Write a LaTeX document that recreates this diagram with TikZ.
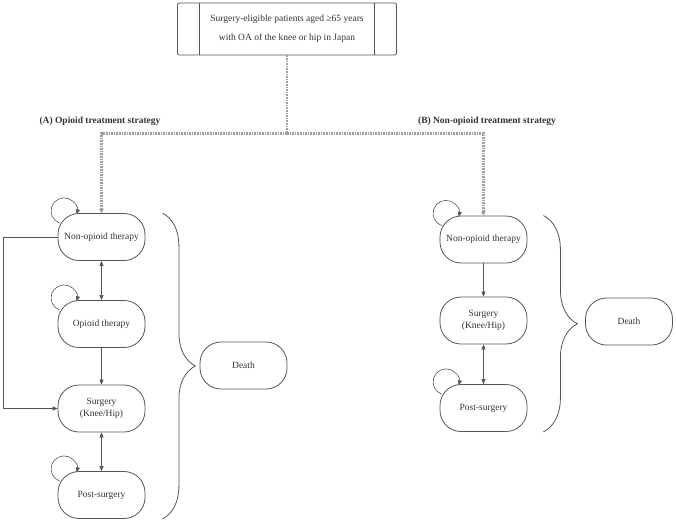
\documentclass[tikz,border=0pt]{standalone}
\usepackage{fontspec}
\setmainfont{Liberation Serif}
\usetikzlibrary{arrows.meta,decorations.pathreplacing}

\definecolor{linegray}{HTML}{555555}
\definecolor{textgray}{HTML}{333333}

\tikzset{
  state/.style={draw=linegray,thick,rounded corners=21pt,minimum width=87pt,
    minimum height=47pt,align=center,text=textgray,font=\fontsize{9.5}{12}\selectfont},
  link/.style={draw=linegray,semithick,-{Triangle[length=5pt,width=4pt]}},
  biglink/.style={draw=linegray,semithick,{Triangle[length=5pt,width=4pt]}-{Triangle[length=5pt,width=4pt]}},
  dashlink/.style={draw=gray!75,line width=2.6pt,dash pattern=on 1.6pt off 1pt,
    -{Triangle[length=4pt,width=4.5pt]}},
  bracket/.style={draw=linegray,thick,decorate},
  strategy/.style={text=textgray,font=\fontsize{9.5}{12}\selectfont\bfseries}
}

% self-loop at the upper left corner of a state
\newcommand\selfloop[1]{%
  \draw[link] ([shift={(2,10)}]#1.north west) arc[start angle=250,end angle=-15,radius=13pt];}

\begin{document}
\begin{tikzpicture}[x=1pt,y=-1pt]
  \useasboundingbox (0,0) rectangle (676,523);

  % ================= population =================
  \node[draw=linegray,thick,rounded corners=2pt,minimum width=219pt,minimum height=52pt,
    align=center,text=textgray,font=\fontsize{9.5}{19}\selectfont] (pop) at (287,29)
    {Surgery-eligible patients aged ≥65 years\\with OA of the knee or hip in Japan};
  \draw[linegray,thick] ([xshift=22pt]pop.north west) -- ([xshift=22pt]pop.south west);
  \draw[linegray,thick] ([xshift=-23pt]pop.north east) -- ([xshift=-23pt]pop.south east);

  \node[strategy] (labA) at (100,121) {(A) Opioid treatment strategy};
  \node[strategy] (labB) at (487,121) {(B) Non-opioid treatment strategy};

  % ================= (A) opioid strategy =================
  \node[state] (A1) at (101.5,237) {Non-opioid therapy};
  \node[state] (A2) at (101.5,324) {Opioid therapy};
  \node[state] (A3) at (101.5,408.5) {Surgery\\(Knee/Hip)};
  \node[state] (A4) at (101.5,495) {Post-surgery};
  \node[state] (A5) at (243.5,365.5) {Death};

  \selfloop{A1}
  \selfloop{A2}
  \selfloop{A4}

  \draw[biglink] (A1) -- (A2);
  \draw[link] (A2) -- (A3);
  \draw[biglink] (A3) -- (A4);
  \draw[link] (A1.west) -- ++(-54,0) |- (A3.west);

  \draw[bracket,decoration={brace,amplitude=33pt}]
    ([xshift=17pt]A1.north east) -- ([xshift=17pt]A4.south east);

  % ================= (B) non-opioid strategy =================
  \node[state] (B1) at (483.5,239.5) {Non-opioid therapy};
  \node[state] (B2) at (483.5,320.5) {Surgery\\(Knee/Hip)};
  \node[state] (B3) at (483.5,408) {Post-surgery};
  \node[state] (B4) at (629,321.5) {Death};

  \selfloop{B1}
  \selfloop{B3}

  \draw[link] (B1) -- (B2);
  \draw[biglink] (B2) -- (B3);

  \draw[bracket,decoration={brace,amplitude=34pt}]
    ([xshift=16pt]B1.north east) -- ([xshift=16pt]B3.south east);

  % ================= split into strategies =================
  \draw[dashlink] (pop.south) -- ++(0,78) coordinate (split) -| (A1.north);
  \draw[dashlink] (split) -| (B1.north);
\end{tikzpicture}
\end{document}
